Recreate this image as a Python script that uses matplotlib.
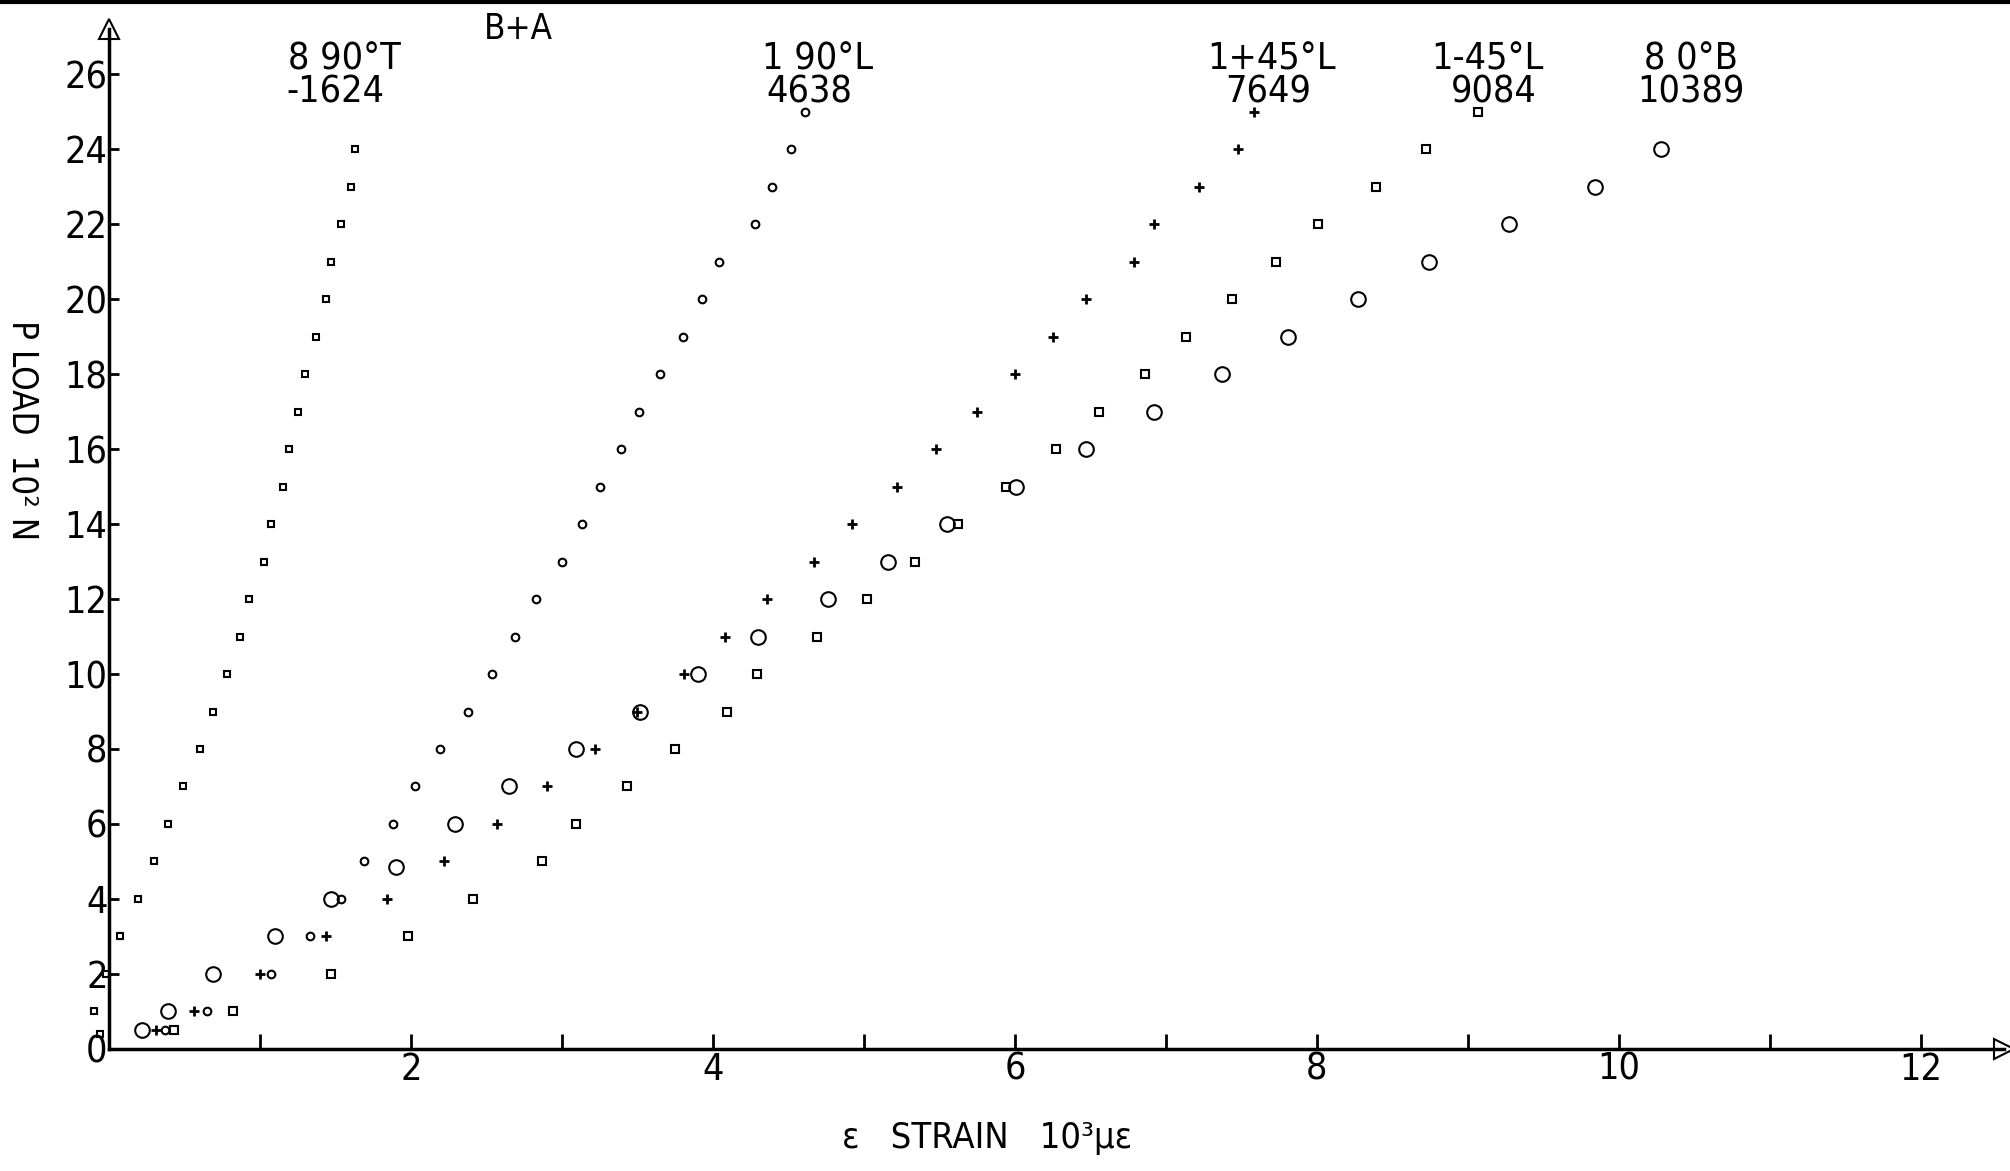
"""
Load vs strain plot (plotter style scan)
"""

import numpy as np
import matplotlib
matplotlib.use("Agg")
import matplotlib.pyplot as plt

FONT = ['DejaVu Sans']
STRETCH = 'condensed'

# series: 8 90T (A), 1 90L (B), 1+45L (C), 1-45L (D), 8 0B (E)
load_A = [0.4, 1, 2, 3, 4, 5, 6, 7, 8, 9, 10, 11, 12, 13, 14, 15, 16, 17, 18, 19, 20, 21, 22, 23, 24]
strain_A = [-0.06, -0.10, -0.02, 0.07, 0.19, 0.30, 0.39, 0.49, 0.60, 0.69, 0.78, 0.87, 0.93, 1.03,
            1.07, 1.15, 1.19, 1.25, 1.30, 1.37, 1.44, 1.47, 1.54, 1.60, 1.63]

load_B = [0.5, 1, 2, 3, 4, 5, 6, 7, 8, 9, 10, 11, 12, 13, 14, 15, 16, 17, 18, 19, 20, 21, 22, 23, 24, 25]
strain_B = [0.37, 0.65, 1.07, 1.33, 1.54, 1.69, 1.88, 2.03, 2.19, 2.38, 2.54, 2.69, 2.83, 3.00,
            3.13, 3.25, 3.39, 3.51, 3.65, 3.80, 3.93, 4.04, 4.28, 4.39, 4.52, 4.61]

load_C = [0.5, 1, 2, 3, 4, 5, 6, 7, 8, 9, 10, 11, 12, 13, 14, 15, 16, 17, 18, 19, 20, 21, 22, 23, 24, 25]
strain_C = [0.31, 0.56, 1.00, 1.44, 1.84, 2.22, 2.57, 2.90, 3.22, 3.50, 3.81, 4.08, 4.36, 4.67,
            4.92, 5.22, 5.48, 5.75, 6.00, 6.25, 6.47, 6.79, 6.92, 7.22, 7.48, 7.58]

load_D = [0.5, 1, 2, 3, 4, 5, 6, 7, 8, 9, 10, 11, 12, 13, 14, 15, 16, 17, 18, 19, 20, 21, 22, 23, 24, 25]
strain_D = [0.43, 0.82, 1.47, 1.98, 2.41, 2.87, 3.09, 3.43, 3.75, 4.09, 4.29, 4.69, 5.02, 5.34,
            5.62, 5.94, 6.27, 6.56, 6.86, 7.13, 7.44, 7.73, 8.01, 8.39, 8.72, 9.07]

load_E = [0.5, 1, 2, 3, 4, 4.86, 6, 7, 8, 9, 10, 11, 12, 13, 14, 15, 16, 17, 18, 19, 20, 21, 22, 23, 24]
strain_E = [0.22, 0.39, 0.69, 1.10, 1.47, 1.90, 2.29, 2.65, 3.09, 3.52, 3.90, 4.30, 4.76, 5.16,
            5.55, 6.01, 6.47, 6.92, 7.37, 7.81, 8.27, 8.74, 9.27, 9.84, 10.28]

# gauge labels above the curves
gauge_names = ["8 90°T", "1 90°L", "1+45°L", "1-45°L", "8 0°B"]
gauge_values = ["-1624", "4638", "7649", "9084", "10389"]
label_x = [1.56, 4.69, 7.70, 9.13, 10.48]
value_x = [1.50, 4.64, 7.68, 9.17, 10.48]

x_ticks = list(range(1, 13))
x_ticklabels = ["" if t % 2 else str(t) for t in x_ticks]
y_ticks = list(range(0, 27, 2))

fig = plt.figure(figsize=(20.1, 11.71), dpi=100)
ax = fig.add_axes([0.0542, 0.1042, 0.9428, 0.871])

ax.plot(strain_A, load_A, ls='none', marker='s', ms=5, mfc='none', mec='black', mew=1.5, clip_on=False)
ax.plot(strain_B, load_B, ls='none', marker='o', ms=5.5, mfc='none', mec='black', mew=1.5, clip_on=False)
ax.plot(strain_C, load_C, ls='none', marker='+', ms=7, mec='black', mew=2, clip_on=False)
ax.plot(strain_D, load_D, ls='none', marker='s', ms=6, mfc='none', mec='black', mew=1.5, clip_on=False)
ax.plot(strain_E, load_E, ls='none', marker='o', ms=10.5, mfc='none', mec='black', mew=1.5, clip_on=False)

ax.set_xlim(0, 12.55)
ax.set_ylim(0, 27.2)

for s in ['top', 'right']:
    ax.spines[s].set_visible(False)
for s in ['left', 'bottom']:
    ax.spines[s].set_linewidth(2.5)

# open arrow heads at the axis ends
ax.plot([1], [0], marker='>', ms=14, mfc='white', mec='black', mew=1.5,
        transform=ax.transAxes, clip_on=False)
ax.plot([0], [1], marker='^', ms=14, mfc='white', mec='black', mew=1.5,
        transform=ax.transAxes, clip_on=False)

ax.set_xticks(x_ticks)
ax.set_xticklabels(x_ticklabels, family=FONT, fontsize=27, stretch=STRETCH)
ax.set_yticks(y_ticks)
ax.set_yticklabels([str(t) for t in y_ticks], family=FONT, fontsize=27, stretch=STRETCH)
ax.tick_params(axis='x', direction='in', length=11, width=2, pad=2)
ax.tick_params(axis='y', direction='in', length=7, width=2, pad=1)

for name, v, lx, vx in zip(gauge_names, gauge_values, label_x, value_x):
    ax.text(lx, 26.4, name, ha='center', va='center', family=FONT, fontsize=27, stretch=STRETCH)
    ax.text(vx, 25.5, v, ha='center', va='center', family=FONT, fontsize=27, stretch=STRETCH)

ax.text(2.71, 27.2, "B+A", ha='center', va='center', family=FONT, fontsize=25, stretch=STRETCH)

fig.text(0.491, 0.028, "ɛ   STRAIN   10³μɛ", ha='center', va='center', family=FONT,
         fontsize=26, stretch=STRETCH)
fig.text(0.011, 0.633, "P LOAD  10² N", ha='center', va='center', rotation=270,
         family=FONT, fontsize=25, stretch=STRETCH)

# scan edge along the top
fig.add_artist(plt.Line2D([0, 1], [0.998, 0.998], color='black', lw=3, transform=fig.transFigure))

fig.savefig("out.png", dpi=100)
